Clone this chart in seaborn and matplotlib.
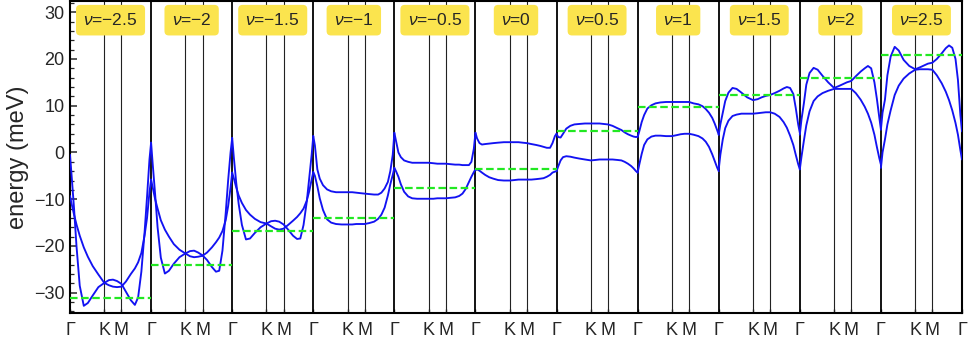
import numpy as np
import pandas as pd
import matplotlib
matplotlib.use("Agg")
import matplotlib.pyplot as plt
import seaborn as sns

# ---------------- data ----------------
NU_LABELS = ["\u22122.5", "\u22122", "\u22121.5", "\u22121", "\u22120.5", "0",
             "0.5", "1", "1.5", "2", "2.5"]
FERMI = [-31.1, -24.0, -16.8, -14.0, -7.7, -3.5, 4.6, 9.8, 12.3, 16.0, 20.8]

# fractional position along the path Gamma-K-M-Gamma within one panel
PATH_T = [0, 0.02, 0.05, 0.08, 0.12, 0.17, 0.22, 0.28, 0.35, 0.423, 0.48, 0.53,
          0.58, 0.634, 0.69, 0.75, 0.80, 0.84, 0.88, 0.92, 0.95, 0.98, 1.0]
K_POS = 0.423
M_POS = 0.634
K_LABELS = ["\u0393", "K", "M"]

BAND_1 = [
    [-0.5, -5.0, -12.0, -20.0, -28.5, -32.8, -32.2, -30.6, -28.8, -27.9, -27.3, -27.2,
     -27.5, -28.1, -29.8, -31.6, -32.6, -31.0, -25.5, -17.0, -9.5, -1.5, 2.1],
    [2.1, -2.5, -9.0, -16.0, -22.5, -25.9, -25.3, -23.8, -22.4, -21.6, -21.1, -21.0,
     -21.4, -22.0, -23.0, -24.5, -25.5, -25.3, -21.0, -13.0, -6.0, 0.0, 3.1],
    [3.1, -1.0, -6.5, -11.0, -15.5, -18.6, -18.4, -17.2, -16.0, -15.2, -14.7, -14.6,
     -14.8, -15.4, -16.5, -17.8, -18.5, -18.4, -15.5, -10.5, -5.5, -0.5, 3.5],
    [3.5, 1.5, -3.6, -5.6, -7.0, -7.9, -8.3, -8.5, -8.5, -8.5, -8.5, -8.6,
     -8.7, -8.8, -8.9, -9.0, -9.0, -8.6, -7.7, -6.3, -4.0, -0.5, 4.2],
    [4.2, 2.5, 0.0, -1.0, -1.7, -2.0, -2.2, -2.2, -2.2, -2.2, -2.3, -2.4,
     -2.4, -2.4, -2.5, -2.6, -2.6, -2.7, -2.7, -2.7, -2.0, 0.8, 4.2],
    [4.2, 3.0, 2.0, 1.7, 1.8, 1.9, 2.0, 2.1, 2.2, 2.2, 2.2, 2.2,
     2.1, 2.0, 1.8, 1.6, 1.4, 1.2, 1.0, 1.0, 2.0, 3.5, 4.0],
    [4.0, 3.3, 3.2, 4.0, 5.1, 5.7, 6.0, 6.1, 6.2, 6.2, 6.2, 6.2,
     6.1, 6.0, 5.7, 5.2, 4.8, 4.3, 3.9, 3.6, 3.4, 3.3, 3.4],
    [3.3, 4.5, 6.5, 8.0, 9.4, 10.1, 10.5, 10.7, 10.8, 10.8, 10.8, 10.8,
     10.8, 10.8, 10.5, 10.3, 9.9, 9.3, 8.5, 7.4, 6.2, 4.8, 3.8],
    [3.8, 6.0, 8.5, 11.0, 12.8, 13.8, 13.6, 12.8, 11.8, 11.2, 11.4, 11.8,
     12.1, 12.3, 12.7, 13.2, 13.7, 14.0, 13.8, 12.5, 9.5, 6.0, 4.2],
    [3.8, 7.0, 10.5, 14.5, 17.0, 18.1, 17.7, 16.4, 15.0, 13.8, 14.2, 14.6,
     15.0, 15.3, 16.3, 17.3, 18.0, 18.5, 18.0, 15.0, 11.5, 7.5, 4.9],
    [4.9, 8.5, 11.3, 16.5, 20.5, 22.6, 21.8, 19.8, 18.5, 17.8, 18.2, 18.6,
     19.0, 19.2, 20.0, 21.2, 22.3, 22.9, 22.4, 20.0, 15.5, 8.0, 4.5],
]
BAND_2 = [
    [-9.3, -11.0, -13.3, -15.4, -17.8, -20.3, -22.3, -24.3, -26.1, -27.9, -28.4, -28.7,
     -28.8, -28.7, -27.6, -26.0, -24.8, -23.5, -21.5, -17.7, -14.0, -8.5, -5.8],
    [-5.8, -7.5, -10.0, -12.0, -14.5, -16.5, -18.0, -19.6, -20.8, -21.6, -22.2, -22.4,
     -22.3, -22.1, -21.4, -20.3, -19.2, -18.2, -16.8, -14.5, -11.5, -7.5, -4.3],
    [-4.3, -5.5, -7.5, -9.2, -10.8, -12.3, -13.3, -14.2, -14.9, -15.2, -15.8, -16.3,
     -16.5, -16.3, -15.5, -14.6, -13.8, -13.0, -12.0, -10.3, -8.3, -5.8, -4.2],
    [-4.2, -5.0, -7.2, -9.8, -12.3, -14.3, -15.0, -15.3, -15.4, -15.4, -15.4, -15.3,
     -15.3, -15.3, -15.1, -14.8, -14.2, -13.3, -11.8, -9.2, -6.8, -4.8, -3.3],
    [-3.3, -4.0, -5.2, -6.8, -8.4, -9.4, -9.8, -9.9, -9.9, -9.9, -9.9, -9.8,
     -9.8, -9.8, -9.7, -9.6, -9.3, -8.8, -7.8, -6.3, -5.2, -4.2, -3.6],
    [-3.8, -3.6, -3.9, -4.3, -4.8, -5.3, -5.6, -5.9, -6.0, -6.0, -5.9, -5.8,
     -5.8, -5.8, -5.8, -5.7, -5.6, -5.5, -5.2, -4.8, -4.3, -4.1, -4.0],
    [-4.0, -3.0, -1.7, -1.0, -0.8, -0.9, -1.1, -1.3, -1.5, -1.7, -1.6, -1.5,
     -1.5, -1.5, -1.5, -1.6, -1.7, -2.0, -2.4, -2.9, -3.4, -4.0, -4.3],
    [-4.3, -2.6, -0.3, 1.6, 2.8, 3.4, 3.6, 3.6, 3.5, 3.5, 3.7, 3.9,
     4.0, 4.0, 3.8, 3.5, 3.0, 2.3, 1.2, -0.4, -1.8, -3.2, -4.0],
    [-3.6, -0.5, 2.8, 5.2, 6.8, 7.8, 8.1, 8.3, 8.3, 8.3, 8.4, 8.5,
     8.6, 8.6, 8.3, 7.6, 6.5, 5.3, 3.6, 1.6, -0.5, -2.5, -3.6],
    [-3.6, -1.0, 2.5, 5.8, 8.8, 11.0, 12.0, 12.7, 13.2, 13.6, 13.6, 13.6,
     13.6, 13.6, 12.7, 11.3, 9.8, 8.3, 6.4, 3.8, 1.2, -1.2, -2.6],
    [-3.3, 0.0, 2.8, 6.0, 9.0, 12.3, 14.3, 15.8, 16.9, 17.7, 17.8, 17.8,
     17.8, 17.7, 16.5, 14.8, 13.0, 11.2, 9.0, 6.3, 3.8, 0.5, -1.5],
]

# ---------------- style ----------------
sns.set_style("ticks")
plt.rcParams["font.family"] = ["Liberation Sans", "DejaVu Sans"]
plt.rcParams["mathtext.fontset"] = "custom"
plt.rcParams["mathtext.it"] = "Liberation Sans:italic"
plt.rcParams["mathtext.rm"] = "Liberation Sans"

rows = []
for i in range(len(NU_LABELS)):
    for name, band in (("a", BAND_1[i]), ("b", BAND_2[i])):
        for t, e in zip(PATH_T, band):
            rows.append({"k": i + t, "E": e, "seg": f"{i}{name}"})
df = pd.DataFrame(rows)

fig = plt.figure(figsize=(9.69, 3.41), dpi=100)
ax = fig.add_axes([70 / 969, 1 - 313.3 / 341, 892 / 969, 312.3 / 341])

n = len(NU_LABELS)
for i in range(n + 1):
    ax.axvline(i, color="black", lw=1.3, zorder=1)
for i in range(n):
    ax.axvline(i + K_POS, color="#222222", lw=0.8, zorder=1)
    ax.axvline(i + M_POS, color="#222222", lw=0.8, zorder=1)

sns.lineplot(data=df, x="k", y="E", units="seg", estimator=None, sort=False,
             color="#1212F2", lw=1.35, ax=ax, legend=False, zorder=3)

for i, ef in enumerate(FERMI):
    ax.hlines(ef, i, i + 1, colors="#22E822", lw=1.6, linestyles=(0, (3.4, 1.6)),
              zorder=4)

for i, lab in enumerate(NU_LABELS):
    ax.text(i + 0.5, 28.3, r"$\mathit{\nu}$=" + lab, ha="center", va="center",
            fontsize=12.5, zorder=6,
            bbox=dict(boxstyle="round,pad=0.42,rounding_size=0.25",
                      fc="#FBE44E", ec="none"))

ax.set_xlim(0, n)
ax.set_ylim(-34.4, 32.4)

xt, xl = [], []
for i in range(n):
    xt += [i, i + K_POS, i + M_POS]
    xl += K_LABELS
xt.append(n)
xl.append(K_LABELS[0])
ax.set_xticks(xt)
ax.set_xticklabels(xl, fontsize=13)
ax.set_yticks(np.arange(-30, 31, 10))
ax.set_yticks(np.arange(-34, 33, 2), minor=True)
ax.tick_params(axis="y", which="major", direction="in", length=5, width=1.1,
               labelsize=13, pad=4, right=False)
ax.tick_params(axis="y", which="minor", direction="in", length=3, width=0.9,
               right=False)
ax.tick_params(axis="x", which="both", direction="in", length=3, width=1.0,
               pad=6, top=False)
ax.set_xlabel("")
ax.set_ylabel("energy (meV)", fontsize=17)
ax.yaxis.label.set_va("center")
ax.yaxis.set_label_coords(-52 / 892, 0.5)
for s in ax.spines.values():
    s.set_linewidth(1.5)
    s.set_color("black")

fig.savefig("out.png", dpi=100)
